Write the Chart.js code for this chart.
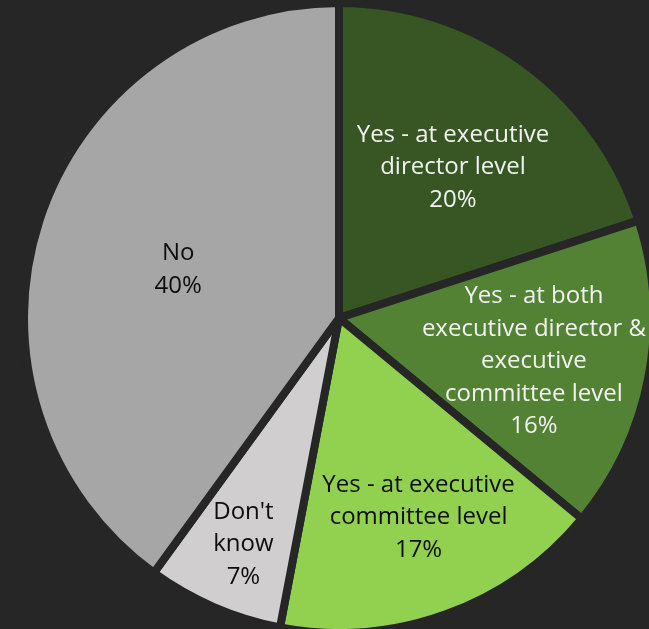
<!DOCTYPE html>
<html>
<head>
<meta charset="utf-8">
<script src="https://cdn.jsdelivr.net/npm/chart.js@4"></script>
<style>
  html, body { margin: 0; padding: 0; background: #262626; overflow: hidden; }
  body { width: 649px; height: 629px; position: relative; }
  #wrap { position: absolute; left: 20px; top: -1px; width: 638px; height: 638px; }
</style>
</head>
<body>
<div id="wrap"><canvas id="pie"></canvas></div>
<script>
const categories = [
  'Yes - at executive director level',
  'Yes - at both executive director & executive committee level',
  'Yes - at executive committee level',
  "Don't know",
  'No',
]
const shares = [20, 16, 17, 7, 40]

// label text split into lines the way they wrap inside each slice
const labelLines = [
  ['Yes - at executive', 'director level'],
  ['Yes - at both', 'executive director &', 'executive', 'committee level'],
  ['Yes - at executive', 'committee level'],
  ["Don't", 'know'],
  ['No'],
]

const sliceColors = ['#375623', '#548235', '#92d050', '#d0cece', '#a6a6a6']
const textColors = ['#f2f2f2', '#f2f2f2', '#0d0d0d', '#0d0d0d', '#0d0d0d']
// how far out along the slice's middle each label block sits (fraction of radius)
const labelRadius = [0.61, 0.63, 0.68, 0.78, 0.54]
// small pixel nudges after the radial placement
const labelNudge = [[1, 5], [0, 6], [7, -2], [2, 1], [1, 4]]

const sliceLabels = {
  id: 'sliceLabels',
  afterDatasetsDraw(chart) {
    const ctx = chart.ctx
    const meta = chart.getDatasetMeta(0)
    ctx.save()
    ctx.font = '24px "Open Sans"'
    ctx.textAlign = 'center'
    ctx.textBaseline = 'middle'
    const lineH = 32.5
    meta.data.forEach((arc, i) => {
      const mid = (arc.startAngle + arc.endAngle) / 2
      const r = arc.outerRadius * labelRadius[i]
      const cx = arc.x + Math.cos(mid) * r + labelNudge[i][0]
      const cy = arc.y + Math.sin(mid) * r + labelNudge[i][1]
      const lines = labelLines[i].concat([shares[i] + '%'])
      const top = cy - (lines.length - 1) * lineH / 2
      ctx.fillStyle = textColors[i]
      lines.forEach((t, j) => ctx.fillText(t, cx, top + j * lineH))
    })
    ctx.restore()
  },
}

const pieConfig = {
  type: 'pie',
  data: {
    labels: categories,
    datasets: [
      {
        data: shares,
        backgroundColor: sliceColors,
        borderColor: '#262626',
        borderWidth: 8,
      },
    ],
  },
  options: {
    responsive: true,
    maintainAspectRatio: false,
    animation: false,
    layout: { padding: 0 },
    plugins: {
      legend: { display: false },
      tooltip: { enabled: false },
    },
  },
  plugins: [sliceLabels],
}

const pieCtx = document.getElementById('pie')
window.myPie = new Chart(pieCtx, pieConfig)
</script>
</body>
</html>
